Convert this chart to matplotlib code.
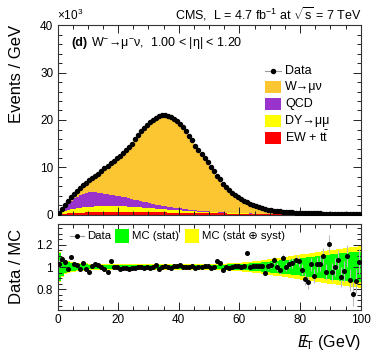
import numpy as np
import matplotlib
matplotlib.use("Agg")
import matplotlib.pyplot as plt
from matplotlib.patches import Rectangle

plt.rcParams['font.family'] = ['Liberation Sans', 'DejaVu Sans']
plt.rcParams['mathtext.fontset'] = 'custom'
plt.rcParams['mathtext.rm'] = 'Liberation Sans'
plt.rcParams['mathtext.it'] = 'Liberation Sans:italic'
plt.rcParams['mathtext.bf'] = 'Liberation Sans:bold'

# ---- data (events / GeV, in thousands), 1 GeV bins from 0 to 100 ----
bin_edges = np.arange(0, 101, 1)
data_k = [0.5, 1.2, 2.0, 2.9, 3.7, 4.4, 5.1, 5.7, 6.3, 6.8,
          7.3, 7.75, 8.2, 8.7, 9.2, 9.8, 10.4, 10.9, 11.4, 11.9,
          12.5, 13.1, 13.7, 14.3, 15.0, 15.9, 16.8, 17.6, 18.3, 19.0,
          19.6, 20.1, 20.5, 20.9, 21.1, 21.1, 20.9, 20.6, 20.2, 19.8,
          19.25, 18.5, 17.6, 16.7, 15.7, 14.6, 13.7, 12.8, 12.0, 11.1,
          10.1, 9.2, 8.3, 7.5, 6.6, 5.9, 5.3, 4.7, 4.15, 3.7,
          3.4, 3.0, 2.65, 2.3, 2.05, 1.8, 1.6, 1.42, 1.26, 1.12,
          1.0, 0.9, 0.82, 0.76, 0.7, 0.65, 0.6, 0.56, 0.52, 0.49,
          0.46, 0.43, 0.40, 0.38, 0.36, 0.34, 0.32, 0.30, 0.29, 0.28,
          0.26, 0.25, 0.24, 0.23, 0.22, 0.21, 0.20, 0.19, 0.18, 0.18]

ewk_k = [0.1, 0.2, 0.3, 0.36, 0.42, 0.45, 0.48, 0.5, 0.52, 0.54,
         0.55, 0.56, 0.57, 0.58, 0.58, 0.59, 0.6, 0.6, 0.6, 0.6,
         0.6, 0.6, 0.6, 0.6, 0.6, 0.59, 0.58, 0.58, 0.57, 0.56,
         0.56, 0.55, 0.55, 0.54, 0.54, 0.53, 0.52, 0.52, 0.51, 0.5,
         0.5, 0.49, 0.48, 0.47, 0.46, 0.45, 0.44, 0.43, 0.42, 0.41,
         0.4, 0.38, 0.36, 0.35, 0.33, 0.32, 0.3, 0.29, 0.28, 0.26,
         0.25, 0.24, 0.23, 0.22, 0.21, 0.2, 0.19, 0.18, 0.17, 0.17,
         0.16, 0.15, 0.15, 0.14, 0.14, 0.13, 0.13, 0.12, 0.12, 0.11,
         0.11, 0.1, 0.1, 0.1, 0.09, 0.09, 0.09, 0.08, 0.08, 0.08,
         0.08, 0.07, 0.07, 0.07, 0.07, 0.06, 0.06, 0.06, 0.06, 0.06]

dy_k = [0.15, 0.35, 0.5, 0.62, 0.75, 0.85, 0.92, 1.0, 1.08, 1.11,
        1.15, 1.19, 1.23, 1.27, 1.32, 1.31, 1.3, 1.3, 1.3, 1.28,
        1.25, 1.23, 1.2, 1.18, 1.15, 1.11, 1.07, 1.02, 0.98, 0.94,
        0.89, 0.85, 0.8, 0.76, 0.71, 0.67, 0.63, 0.58, 0.54, 0.5,
        0.45, 0.43, 0.4, 0.37, 0.34, 0.32, 0.29, 0.27, 0.24, 0.22,
        0.2, 0.19, 0.18, 0.16, 0.15, 0.14, 0.13, 0.12, 0.11, 0.11,
        0.1, 0.1, 0.09, 0.09, 0.08, 0.08, 0.07, 0.07, 0.07, 0.06,
        0.06, 0.06, 0.05, 0.05, 0.05, 0.05, 0.04, 0.04, 0.04, 0.04,
        0.04, 0.03, 0.03, 0.03, 0.03, 0.03, 0.03, 0.03, 0.02, 0.02,
        0.02, 0.02, 0.02, 0.02, 0.02, 0.02, 0.02, 0.02, 0.02, 0.02]

qcd_k = [0.2, 0.5, 0.9, 1.3, 1.7, 2.2, 2.4, 2.7, 2.9, 3.05,
         3.15, 3.15, 3.0, 2.85, 2.7, 2.6, 2.5, 2.4, 2.3, 2.22,
         2.15, 2.02, 1.9, 1.77, 1.65, 1.55, 1.45, 1.35, 1.25, 1.15,
         1.05, 0.95, 0.85, 0.75, 0.7, 0.65, 0.6, 0.55, 0.5, 0.45,
         0.43, 0.38, 0.34, 0.31, 0.28, 0.23, 0.2, 0.16, 0.14, 0.11,
         0.1, 0.09, 0.08, 0.07, 0.06, 0.05, 0.05, 0.04, 0.04, 0.03,
         0.03, 0.03, 0.02, 0.02, 0.02, 0.02, 0.02, 0.01, 0.01, 0.01,
         0.01, 0.01, 0.01, 0.01, 0.01, 0.01, 0.01, 0.01, 0.01, 0.01,
         0.01, 0.01, 0.01, 0.01, 0.01, 0.01, 0.01, 0.01, 0.01, 0.01,
         0.01, 0.01, 0.01, 0.01, 0.01, 0.01, 0.01, 0.01, 0.01, 0.01]

wmunu_k = [0.05, 0.15, 0.3, 0.62, 0.83, 0.9, 1.3, 1.5, 1.8, 2.1,
           2.45, 2.85, 3.4, 4.0, 4.6, 5.3, 6.0, 6.6, 7.2, 7.8,
           8.5, 9.25, 10.0, 10.75, 11.6, 12.65, 13.7, 14.65, 15.5, 16.35,
           17.1, 17.75, 18.3, 18.85, 19.15, 19.25, 19.15, 18.95, 18.65, 18.35,
           17.87, 17.2, 16.38, 15.55, 14.62, 13.6, 12.77, 11.94, 11.2, 10.36,
           9.4, 8.54, 7.68, 6.92, 6.06, 5.39, 4.82, 4.25, 3.72, 3.3,
           3.02, 2.63, 2.31, 1.97, 1.74, 1.5, 1.32, 1.16, 1.01, 0.88,
           0.77, 0.68, 0.61, 0.56, 0.5, 0.46, 0.42, 0.39, 0.35, 0.33,
           0.31, 0.29, 0.26, 0.24, 0.23, 0.21, 0.19, 0.18, 0.18, 0.17,
           0.15, 0.15, 0.14, 0.13, 0.12, 0.12, 0.11, 0.10, 0.09, 0.09]

ratio = [1.03, 1.077, 1.046, 0.985, 1.092, 1.025, 1.015, 0.98, 1.037, 0.985,
         0.955, 1.005, 1.03, 1.015, 1.0, 0.985, 0.955, 1.05, 1.0, 1.0,
         0.985, 0.99, 0.99, 0.985, 0.995, 0.99, 1.0, 1.0, 0.995, 1.0,
         0.99, 1.0, 1.015, 0.98, 1.0, 1.005, 1.0, 0.99, 1.01, 1.01,
         1.02, 1.0, 1.0, 1.0, 1.005, 0.99, 1.0, 1.0, 1.005, 1.01,
         0.995, 1.0, 1.055, 1.037, 0.97, 1.0, 0.99, 1.0, 1.005, 1.01,
         1.0, 1.005, 1.123, 1.0, 1.01, 1.005, 1.005, 1.01, 0.948, 1.01,
         1.02, 1.06, 1.0, 0.97, 1.086, 1.0, 1.03, 1.037, 1.068, 1.05,
         0.975, 0.89, 0.86, 1.025, 0.92, 1.025, 1.03, 1.098, 0.954, 1.21,
         0.954, 1.0, 1.068, 0.908, 0.96, 1.098, 0.883, 0.754, 0.87, 1.046]

ratio_err = [0.03, 0.02, 0.015, 0.012, 0.01, 0.01, 0.009, 0.008, 0.008, 0.007,
             0.006, 0.006, 0.006, 0.006, 0.006, 0.006, 0.006, 0.006, 0.006, 0.006,
             0.006, 0.006, 0.006, 0.006, 0.006, 0.006, 0.006, 0.006, 0.006, 0.006,
             0.006, 0.006, 0.006, 0.006, 0.006, 0.006, 0.006, 0.006, 0.006, 0.006,
             0.006, 0.006, 0.006, 0.006, 0.006, 0.006, 0.006, 0.006, 0.006, 0.006,
             0.007, 0.007, 0.008, 0.008, 0.009, 0.01, 0.01, 0.011, 0.012, 0.013,
             0.014, 0.015, 0.016, 0.017, 0.018, 0.019, 0.02, 0.022, 0.024, 0.026,
             0.028, 0.03, 0.032, 0.034, 0.036, 0.038, 0.04, 0.042, 0.044, 0.046,
             0.05, 0.053, 0.056, 0.06, 0.063, 0.066, 0.07, 0.073, 0.076, 0.08,
             0.083, 0.086, 0.09, 0.093, 0.096, 0.1, 0.103, 0.106, 0.11, 0.113]

mc_stat = [0.13, 0.08, 0.055, 0.045, 0.04, 0.035, 0.03, 0.028, 0.026, 0.024,
           0.022, 0.021, 0.02, 0.02, 0.02, 0.019, 0.019, 0.019, 0.018, 0.018,
           0.018, 0.018, 0.018, 0.018, 0.018, 0.018, 0.018, 0.018, 0.018, 0.018,
           0.017, 0.017, 0.017, 0.017, 0.017, 0.017, 0.017, 0.017, 0.017, 0.017,
           0.017, 0.017, 0.017, 0.018, 0.018, 0.018, 0.018, 0.019, 0.019, 0.019,
           0.02, 0.02, 0.021, 0.021, 0.022, 0.022, 0.023, 0.024, 0.025, 0.026,
           0.027, 0.029, 0.031, 0.033, 0.035, 0.037, 0.039, 0.041, 0.044, 0.047,
           0.05, 0.053, 0.056, 0.059, 0.062, 0.065, 0.068, 0.071, 0.074, 0.077,
           0.08, 0.083, 0.087, 0.09, 0.094, 0.098, 0.1, 0.104, 0.108, 0.112,
           0.116, 0.12, 0.122, 0.125, 0.128, 0.13, 0.133, 0.136, 0.138, 0.14]

mc_total = [0.14, 0.09, 0.065, 0.055, 0.048, 0.043, 0.04, 0.037, 0.035, 0.033,
            0.031, 0.03, 0.029, 0.028, 0.028, 0.027, 0.027, 0.026, 0.026, 0.026,
            0.025, 0.025, 0.025, 0.025, 0.025, 0.025, 0.025, 0.025, 0.025, 0.025,
            0.025, 0.025, 0.025, 0.025, 0.025, 0.025, 0.025, 0.025, 0.025, 0.025,
            0.025, 0.025, 0.025, 0.025, 0.025, 0.025, 0.025, 0.025, 0.025, 0.025,
            0.026, 0.027, 0.028, 0.029, 0.03, 0.031, 0.032, 0.034, 0.036, 0.038,
            0.04, 0.043, 0.046, 0.049, 0.052, 0.055, 0.058, 0.062, 0.066, 0.07,
            0.074, 0.078, 0.082, 0.086, 0.09, 0.094, 0.098, 0.102, 0.106, 0.11,
            0.114, 0.118, 0.122, 0.126, 0.13, 0.134, 0.138, 0.142, 0.146, 0.15,
            0.154, 0.158, 0.162, 0.166, 0.17, 0.174, 0.178, 0.18, 0.185, 0.19]

legend_labels = ['Data', 'W\u2192\u03bc\u03bd', 'QCD', 'DY\u2192\u03bc\u03bc', 'EW + $\\mathrm{t\\bar{t}}$']
ratio_legend_labels = ['Data', 'MC (stat)', 'MC (stat \u2295 syst)']

# ---- colours ----
c_w = '#FCC633'
c_qcd = '#9933CC'
c_dy = '#FFFF00'
c_ewk = '#FF0000'
c_stat = '#00FF00'
c_syst = '#FFFF00'

W, H = 374, 359
fig = plt.figure(figsize=(W / 100, H / 100), dpi=100)

def fx(px):
    return px / W

def fy(py):
    return 1 - py / H

L, R = 57.5, 360.7
ax = fig.add_axes([fx(L), fy(215), fx(R) - fx(L), fy(25) - fy(215)])
axr = fig.add_axes([fx(L), fy(310), fx(R) - fx(L), fy(224) - fy(310)])

edges = bin_edges
centers = 0.5 * (edges[:-1] + edges[1:])
e = np.array(ewk_k)
d = np.array(dy_k)
q = np.array(qcd_k)
w = np.array(wmunu_k)

ax.stairs(e, edges, baseline=0, fill=True, color=c_ewk, lw=0)
ax.stairs(e + d, edges, baseline=e, fill=True, color=c_dy, lw=0)
ax.stairs(e + d + q, edges, baseline=e + d, fill=True, color=c_qcd, lw=0)
ax.stairs(e + d + q + w, edges, baseline=e + d + q, fill=True, color=c_w, lw=0)
ax.plot(centers, data_k, 'o', color='black', ms=2.9, mec='black', zorder=5)

ax.set_xlim(0, 100)
ax.set_ylim(0, 40)
ax.set_yticks([0, 10, 20, 30, 40])
ax.set_yticks(np.arange(0, 41, 2), minor=True)
ax.set_xticks([0, 20, 40, 60, 80, 100])
ax.set_xticks(np.arange(0, 101, 5), minor=True)
ax.set_xticklabels([])

for a in (ax, axr):
    a.tick_params(which='both', direction='in', top=True, right=True, width=0.7, colors='#222222', labelcolor='black')
    a.tick_params(which='major', length=6, labelsize=8.5)
    a.tick_params(which='minor', length=3)
    for s in a.spines.values():
        s.set_linewidth(0.8)
        s.set_color('#333333')
ax.tick_params(axis='y', pad=3)

# top legend (manual)
def tax(px, py):
    return ((px - L) / (R - L), (215 - py) / 190.0)

rows = [70.7, 87.0, 104.0, 121.0, 137.5]
x0, x1 = 265, 281
xm = 0.5 * (x0 + x1)
lx, ly = tax(x0, rows[0])
lx2, _ = tax(x1, rows[0])
ax.plot([lx, lx2], [ly, ly], color='#999999', lw=0.8, transform=ax.transAxes, zorder=6)
ax.plot([tax(xm, rows[0])[0]], [ly], 'o', color='black', ms=2.9, transform=ax.transAxes, zorder=7)
for r, c in zip(rows[1:], [c_w, c_qcd, c_dy, c_ewk]):
    bx, by = tax(x0, r + 6)
    bx2, by2 = tax(x1, r - 6)
    ax.add_patch(Rectangle((bx, by), bx2 - bx, by2 - by, transform=ax.transAxes,
                           facecolor=c, edgecolor='none', zorder=6))
for r, lab in zip(rows, legend_labels):
    tx, ty = tax(285, r)
    ax.text(tx, ty, lab, transform=ax.transAxes, fontsize=9, va='center', ha='left', zorder=7)

# ratio panel
axr.stairs(1 + np.array(mc_total), edges, baseline=1 - np.array(mc_total), fill=True, color=c_syst, lw=0)
axr.stairs(1 + np.array(mc_stat), edges, baseline=1 - np.array(mc_stat), fill=True, color=c_stat, lw=0)
axr.errorbar(centers, ratio, yerr=ratio_err, fmt='o', color='black', ms=2.6,
             ecolor='#BBBBBB', elinewidth=0.8, capsize=0, zorder=5)
axr.set_xlim(0, 100)
axr.set_ylim(0.61, 1.39)
axr.set_yticks([0.8, 1.0, 1.2])
axr.set_yticklabels(['0.8', '1', '1.2'])
axr.set_yticks(np.arange(0.65, 1.39, 0.05), minor=True)
axr.set_xticks([0, 20, 40, 60, 80, 100])
axr.set_xticks(np.arange(0, 101, 5), minor=True)
axr.tick_params(axis='x', pad=3)

def rax(px, py):
    return ((px - L) / (R - L), (310 - py) / 86.0)

ry = 236
a1, b1 = rax(70, ry)
a2, _ = rax(84, ry)
axr.plot([a1, a2], [b1, b1], color='#999999', lw=0.8, transform=axr.transAxes, zorder=6)
axr.plot([rax(77, ry)[0]], [b1], 'o', color='black', ms=2.6, transform=axr.transAxes, zorder=7)
axr.text(rax(87, ry)[0], b1, ratio_legend_labels[0], transform=axr.transAxes, fontsize=8.2, va='center', zorder=7)
for (bx0, bx1, tx0, c, lab) in [(115, 129, 132, c_stat, ratio_legend_labels[1]),
                                 (185, 199, 202, c_syst, ratio_legend_labels[2])]:
    p0 = rax(bx0, ry + 7)
    p1 = rax(bx1, ry - 7)
    axr.add_patch(Rectangle(p0, p1[0] - p0[0], p1[1] - p0[1], transform=axr.transAxes,
                            facecolor=c, edgecolor='none', zorder=6))
    axr.text(rax(tx0, ry)[0], b1, lab, transform=axr.transAxes, fontsize=8.2, va='center', zorder=7)

# texts
fig.text(fx(361), fy(14), 'CMS,  L = 4.7 fb$^{-1}$ at $\\sqrt{\\mathrm{s}}$ = 7 TeV',
         ha='right', va='center', fontsize=9)
fig.text(fx(57), fy(15), '$\\times10^{3}$', ha='left', va='center', fontsize=8.5)
fig.text(fx(71), fy(43), '(d)', ha='left', va='center', fontsize=9, fontweight='bold')
fig.text(fx(91), fy(43), 'W$^{-}$\u2192\u03bc$^{-}$\u03bd,  1.00 < |\u03b7| < 1.20', ha='left', va='center', fontsize=9)
fig.text(fx(17), fy(25), 'Events / GeV', rotation=90, ha='center', va='top', fontsize=12)
fig.text(fx(17), fy(266), 'Data / MC', rotation=90, ha='center', va='center', fontsize=12)
fig.text(fx(361), fy(343), '$E\\!\\!\\!/_{\\mathrm{T}}$ (GeV)', ha='right', va='center', fontsize=11.5)

fig.savefig('out.png', dpi=100)
